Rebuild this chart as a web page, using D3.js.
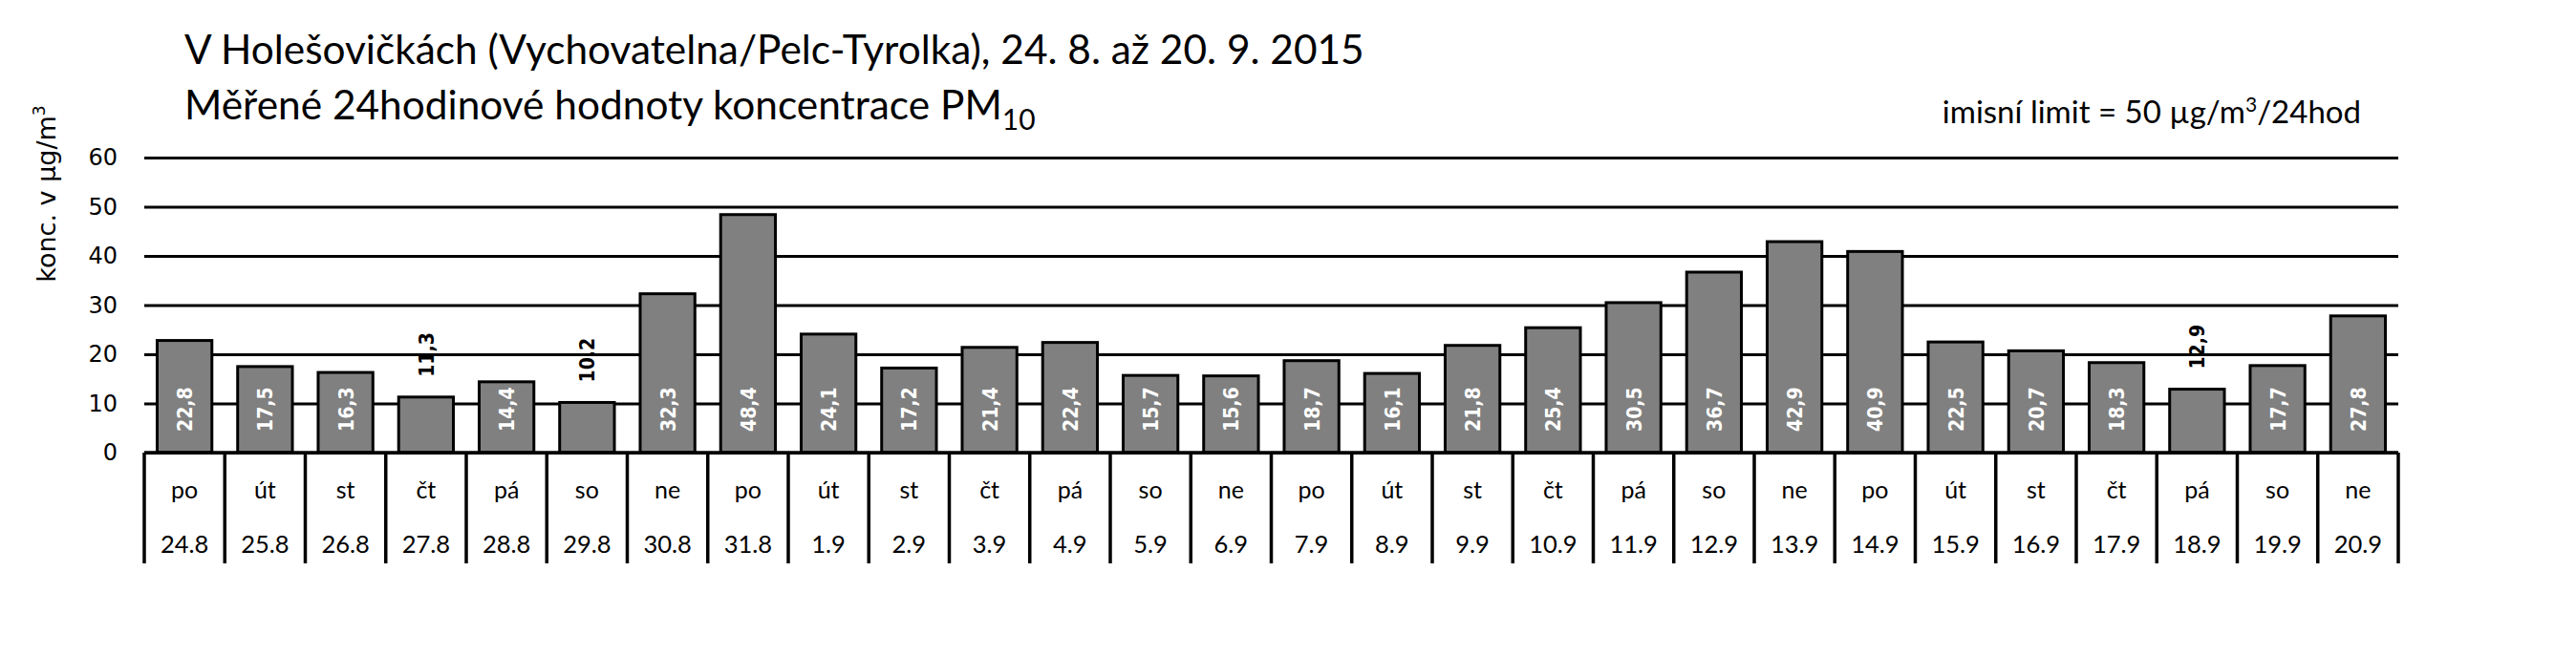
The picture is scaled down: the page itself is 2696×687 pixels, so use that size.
<!DOCTYPE html>
<html>
<head>
<meta charset="utf-8">
<script src="https://cdn.jsdelivr.net/npm/d3@7"></script>
<style>
  html, body { margin: 0; padding: 0; background: #fff; }
  svg { display: block; }
</style>
</head>
<body>
<svg id="chart" width="2696" height="687"></svg>
<script>
const days = ["po","út","st","čt","pá","so","ne","po","út","st","čt","pá","so","ne",
              "po","út","st","čt","pá","so","ne","po","út","st","čt","pá","so","ne"];
const dates = ["24.8","25.8","26.8","27.8","28.8","29.8","30.8","31.8","1.9","2.9","3.9","4.9","5.9","6.9",
               "7.9","8.9","9.9","10.9","11.9","12.9","13.9","14.9","15.9","16.9","17.9","18.9","19.9","20.9"];
const values = [22.8,17.5,16.3,11.3,14.4,10.2,32.3,48.4,24.1,17.2,21.4,22.4,15.7,15.6,
                18.7,16.1,21.8,25.4,30.5,36.7,42.9,40.9,22.5,20.7,18.3,12.9,17.7,27.8];
const yTicks = [0,10,20,30,40,50,60];
const title1 = "V Holešovičkách (Vychovatelna/Pelc-Tyrolka), 24. 8. až 20. 9. 2015";
const title2 = "Měřené 24hodinové hodnoty koncentrace PM";
const title2sub = "10";
const limitText = ["imisní limit = 50 µg/m", "3", "/24hod"];
const yLabel = ["konc. v µg/m", "3"];

(function () {
const svg = d3.select("#chart");
const W = 2696, H = 687;
svg.append("rect").attr("width", W).attr("height", H).attr("fill", "#fff");

const pLeft = 151, pRight = 2510, pTop = 165, pBottom = 474, tableBottom = 590;
const pad = 0.32;
const x = d3.scaleBand().domain(d3.range(values.length)).range([pLeft, pRight])
  .paddingInner(pad).paddingOuter(pad / 2);
const y = d3.scaleLinear().domain([0, 60]).range([pBottom, pTop]);

const uiFont = "Lato, 'Open Sans', sans-serif";
const axFont = "'DejaVu Sans', Verdana, sans-serif";

// gridlines + y ticks
const yAxis = d3.axisLeft(y).tickValues(yTicks).tickSize(-(pRight - pLeft)).tickPadding(28)
  .tickFormat(d3.format("d"));
const gy = svg.append("g").attr("transform", `translate(${pLeft},0)`).call(yAxis);
gy.select(".domain").remove();
gy.selectAll(".tick line").attr("stroke", "#000").attr("stroke-width", 3);
gy.selectAll(".tick text").attr("fill", "#000").style("font-family", axFont).style("font-size", "24px");

// bars
svg.append("g").selectAll("rect").data(values).join("rect")
  .attr("x", (d, i) => x(i))
  .attr("y", d => y(d))
  .attr("width", x.bandwidth())
  .attr("height", d => y(0) - y(d))
  .attr("fill", "#808080")
  .attr("stroke", "#000")
  .attr("stroke-width", 3);

// x axis line and table
const step = x.step();
const bounds = d3.range(values.length + 1).map(i => pLeft + i * step);
svg.append("line").attr("x1", pLeft).attr("x2", pRight).attr("y1", y(0)).attr("y2", y(0))
  .attr("stroke", "#000").attr("stroke-width", 3.5);
svg.append("g").selectAll("line").data(bounds).join("line")
  .attr("x1", d => d).attr("x2", d => d)
  .attr("y1", y(0)).attr("y2", tableBottom)
  .attr("stroke", "#000").attr("stroke-width", 3.5);

const cx = i => x(i) + x.bandwidth() / 2;
svg.append("g").selectAll("text").data(days).join("text")
  .attr("x", (d, i) => cx(i)).attr("y", 522)
  .attr("text-anchor", "middle")
  .style("font-family", uiFont).style("font-size", "25px")
  .text(d => d);
svg.append("g").selectAll("text").data(dates).join("text")
  .attr("x", (d, i) => cx(i)).attr("y", 579)
  .attr("text-anchor", "middle")
  .style("font-family", uiFont).style("font-size", "25.5px")
  .text(d => d);

// data labels
const fmt = v => d3.format(".1f")(v).replace(".", ",");
const sx = 0.86;
const lbl = svg.append("g").selectAll("text").data(values).join("text")
  .style("font-family", axFont).style("font-size", "22px").style("font-weight", "bold")
  .attr("text-anchor", "start")
  .attr("dy", "0.36em")
  .text(d => fmt(d));
lbl.each(function(d, i) {
  const len = this.getComputedTextLength() * sx;
  const h = y(0) - y(d);
  const inside = h >= 22 + len;
  d3.select(this)
    .attr("fill", inside ? "#fff" : "#000")
    .attr("transform", inside
      ? `translate(${cx(i)},${y(0) - 22}) rotate(-90) scale(${sx},1)`
      : `translate(${cx(i)},${y(d) - 21}) rotate(-90) scale(${sx},1)`);
});

// titles
svg.append("text").attr("x", 193).attr("y", 67)
  .style("font-family", uiFont).style("font-size", "42.4px").text(title1);
const t2 = svg.append("text").attr("x", 193).attr("y", 125)
  .style("font-family", uiFont).style("font-size", "42.4px");
t2.append("tspan").text(title2);
t2.append("tspan").attr("dy", 11).style("font-size", "30px").text(title2sub);

// limit text
const lt = svg.append("text").attr("x", 2471).attr("y", 129).attr("text-anchor", "end")
  .style("font-family", uiFont).style("font-size", "33px");
lt.append("tspan").text(limitText[0]);
lt.append("tspan").attr("dy", -12).style("font-size", "21px").text(limitText[1]);
lt.append("tspan").attr("dy", 12).text(limitText[2]);

// y label
const yl = svg.append("text")
  .attr("transform", "translate(58,203) rotate(-90)")
  .attr("text-anchor", "middle")
  .style("font-family", axFont).style("font-size", "27px");
yl.append("tspan").text(yLabel[0]);
yl.append("tspan").attr("dy", -11).style("font-size", "17px").text(yLabel[1]);
})();
</script>
</body>
</html>
